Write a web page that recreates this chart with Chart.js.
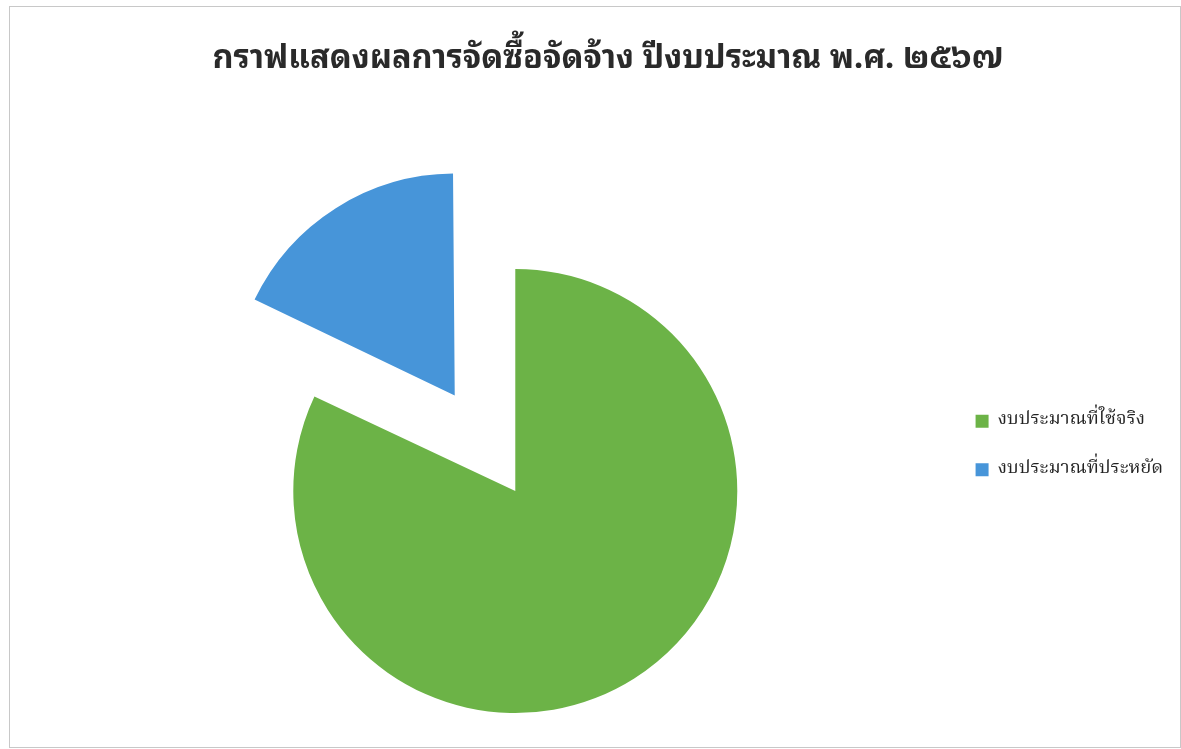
<!DOCTYPE html>
<html>
<head>
<meta charset="utf-8">
<script src="https://cdn.jsdelivr.net/npm/chart.js@4.4.1/dist/chart.umd.min.js"></script>
<style>
  body { margin: 0; background: #fff; }
  #wrap { position: relative; width: 1181px; height: 749px; }
  #frame { position: absolute; left: 9px; top: 6px; width: 1170px; height: 740px; border: 1px solid #c8c8c8; pointer-events: none; }
</style>
</head>
<body>
<div id="wrap">
  <canvas id="pieChart" width="1181" height="749"></canvas>
  <div id="frame"></div>
</div>
<script>
// ---------------- data ----------------
const chartTitle = "กราฟแสดงผลการจัดซื้อจัดจ้าง ปีงบประมาณ พ.ศ. ๒๕๖๗     "; // trailing spaces nudge the centred title left
const labels = ["งบประมาณที่ใช้จริง", "งบประมาณที่ประหยัด"];
const values = [82, 18]; // percent
const colors = ["#6cb347", "#4795d9"];
const explode = [0, 452]; // chart.js draws offset/4 -> about 113px pull-out

const thaiFont = "'Noto Sans Thai Looped', Loma, Tahoma, 'Noto Sans Thai', 'Noto Sans', sans-serif";
const thaiSerif = "'Noto Serif Thai', Norasi, 'TH Sarabun New', 'Noto Sans Thai', serif";

// chart.js grows an exploded arc's radius a bit; pull it back so both slices are the same size
const sameRadius = {
  id: "sameRadius",
  afterDatasetsUpdate(chart) {
    chart.getDatasetMeta(0).data.forEach((arc, i) => {
      const off = (explode[i] || 0) / 4;
      const circ = arc.endAngle - arc.startAngle;
      const fix = 1 - Math.sin(Math.min(Math.PI, circ));
      arc.outerRadius = arc.outerRadius - off * fix;
    });
  },
};

const ctx = document.querySelector("#pieChart").getContext("2d");
const chart = new Chart(ctx, {
  type: "pie",
  data: {
    labels: labels,
    datasets: [
      {
        data: values,
        backgroundColor: colors,
        borderWidth: 0,
        offset: explode,
      },
    ],
  },
  options: {
    responsive: false,
    animation: false,
    radius: 222,
    layout: {
      padding: { left: 85, right: 8, top: 0, bottom: 0 },
    },
    plugins: {
      tooltip: { enabled: false },
      title: {
        display: true,
        text: chartTitle,
        color: "#2a2a2a",
        font: { family: thaiFont, size: 32.5, weight: "bold" },
        padding: { top: 39, bottom: 155 },
      },
      legend: {
        position: "right",
        align: "start",
        // empty title only used as a spacer to push the items down
        title: { display: true, text: "", font: { size: 10, lineHeight: 1 }, padding: { top: 372, bottom: 0 } },
        labels: {
          boxWidth: 13,
          boxHeight: 13,
          padding: 30,
          color: "#222",
          font: { family: thaiSerif, size: 18.5 },
        },
      },
    },
  },
  plugins: [sameRadius],
});
</script>
</body>
</html>
